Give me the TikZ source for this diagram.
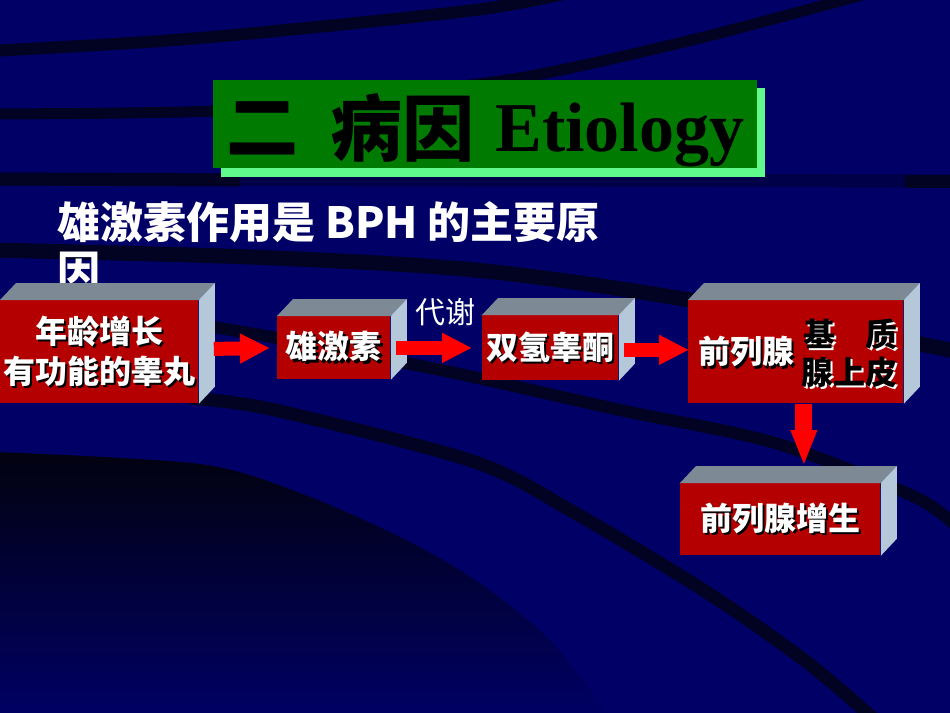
\documentclass[tikz,border=0pt]{standalone}
\usepackage{fontspec}
\newfontfamily\cjk{Noto Sans CJK SC}
\newfontfamily\tnr{Liberation Serif}
\usetikzlibrary{arrows.meta,calc}
\definecolor{bgblue}{RGB}{0,0,102}
\definecolor{banddark}{RGB}{2,2,34}
\definecolor{bandfaint}{RGB}{0,0,72}
\definecolor{gdark}{RGB}{2,2,16}
\definecolor{titlegreen}{RGB}{0,122,0}
\definecolor{ltgreen}{RGB}{96,250,140}
\definecolor{boxred}{RGB}{180,0,0}
\definecolor{topgray}{RGB}{125,138,150}
\definecolor{sideblue}{RGB}{180,200,218}
\definecolor{arrowred}{RGB}{255,0,0}
\newcommand\shd[3]{\makebox[0pt][l]{\raisebox{-1.1pt}{\hspace{1.1pt}\textcolor{#1}{#3}}}\textcolor{#2}{#3}}
\newcommand\cubefaces[1]{%
  \fill[topgray] (#1.north west) -- ++(16,-17) -- ($(#1.north east)+(16,-17)$) -- (#1.north east) -- cycle;
  \fill[sideblue] (#1.north east) -- ++(16,-17) -- ($(#1.south east)+(16,-17)$) -- (#1.south east) -- cycle;}
\begin{document}
\begin{tikzpicture}[x=0.5pt,y=-0.5pt,
  band/.style={draw=banddark},
  faint/.style={draw=bandfaint},
  cube/.style={fill=boxred, inner sep=0pt, anchor=north west, align=center,
     font=\cjk\bfseries\fontsize{16pt}{20pt}\selectfont},
  boxtext/.style={inner sep=0pt, font=\cjk\bfseries\fontsize{16pt}{20pt}\selectfont},
  redarrow/.style={draw=arrowred, line width=7pt, -{Triangle[length=15pt,width=14pt]}},
  vredarrow/.style={draw=arrowred, line width=8.5pt, -{Triangle[length=18pt,width=12pt]}},
  titlecjk/.style={inner sep=0pt, font=\cjk\bfseries\fontsize{36pt}{40pt}\selectfont, text=black}]
\useasboundingbox (0,0) rectangle (950,713);
\fill[bgblue] (0,0) rectangle (950,713);
\begin{scope}
\clip (0,0) rectangle (950,713);
% background sweeps
\shade[top color=gdark, middle color=gdark, bottom color=bgblue]
  plot[smooth] coordinates {(-5,452) (200,464) (300,493) (400,537) (475,580) (550,640) (612,720)} -- (-5,720) -- cycle;
\draw[band, line width=6pt] plot[smooth] coordinates {(-10,51) (200,38) (475,10) (580,-10)};
\draw[band, line width=5.5pt] plot[smooth] coordinates {(-10,114) (213,111) (370,96) (525,77) (700,38) (880,-10)};
\draw[faint, line width=6.5pt] (-10,179) -- (960,181);
\draw[band, line width=6.5pt] (-10,179) -- (240,180);
\draw[band, line width=6.5pt] (905,181) -- (960,181);
\draw[band, line width=7.5pt] plot[smooth] coordinates {(-10,250) (250,257) (475,270) (690,300) (960,352)};
\draw[band, line width=6pt] plot[smooth] coordinates {(200,325) (277,338) (450,372) (620,410) (775,443) (915,497) (960,530)};
\draw[band, line width=6.5pt] plot[smooth] coordinates {(190,398) (275,410) (475,462) (575,513) (708,593) (808,663) (875,720)};
\end{scope}
% title
\fill[ltgreen] (221,88) rectangle (765,177);
\node[fill=titlegreen, inner sep=0pt, minimum width=272pt, minimum height=44pt, anchor=north west] (title) at (213,80) {};
\node[titlecjk] (t1) at (262,128) {二};
\node[titlecjk] (t2) at (402,128) {病因};
\node[inner sep=0pt, anchor=base west, font=\tnr\bfseries\fontsize{35pt}{40pt}\selectfont, text=black] (t3) at (495,151) {Etiology};
% subtitle
\node[inner sep=0pt, anchor=west, text=white, font=\cjk\bfseries\fontsize{21.5pt}{24pt}\selectfont] (sub) at (57,222) {雄激素作用是 BPH 的主要原};
\node[inner sep=0pt, anchor=west, text=white, font=\cjk\bfseries\fontsize{21.5pt}{24pt}\selectfont] (sub2) at (57,272) {因};
% boxes
\node[cube, minimum width=99pt, minimum height=51.5pt] (b1) at (0,300) {\shd{black}{white}{年龄增长}\\\shd{black}{white}{有功能的睾丸}};
\node[cube, minimum width=56.5pt, minimum height=31.5pt] (b2) at (277,316) {\shd{black}{white}{雄激素}};
\node[cube, minimum width=68pt, minimum height=32.5pt] (b3) at (482,315) {\shd{black}{white}{双氢睾酮}};
\node[cube, minimum width=107.5pt, minimum height=51.5pt] (b4) at (688,300) {};
\node[cube, minimum width=100pt, minimum height=36pt] (b5) at (680,483) {\shd{black}{white}{前列腺增生}};
\cubefaces{b1}
\cubefaces{b2}
\cubefaces{b3}
\cubefaces{b4}
\cubefaces{b5}
\node[boxtext] (p1) at (746,353) {\shd{black}{white}{前列腺}};
\node[boxtext] (p2) at (819,335) {\shd{white}{black}{基}};
\node[boxtext] (p3) at (881,335) {\shd{white}{black}{质}};
\node[boxtext] (p4) at (849,373) {\shd{white}{black}{腺上皮}};
% label
\node[inner sep=0pt, text=white, font=\cjk\fontsize{15pt}{18pt}\selectfont] (lbl) at (445,312) {代谢};
% arrows
\draw[redarrow, shorten >=3.5pt] ($(b1.east)+(15,-3)$) -- (b2.west);
\draw[redarrow, shorten >=5pt] ($(b2.east)+(5,0)$) -- (b3.west);
\draw[redarrow] ($(b3.east)+(5,2)$) -- ($(b4.west)+(1,-2)$);
\coordinate (v1) at ($(b4.south)+(8,0)$);
\coordinate (v2) at ($(b5.north)+(0,-17)$);
\draw[vredarrow] (v1) -- (v1 |- v2);
\end{tikzpicture}
\end{document}
